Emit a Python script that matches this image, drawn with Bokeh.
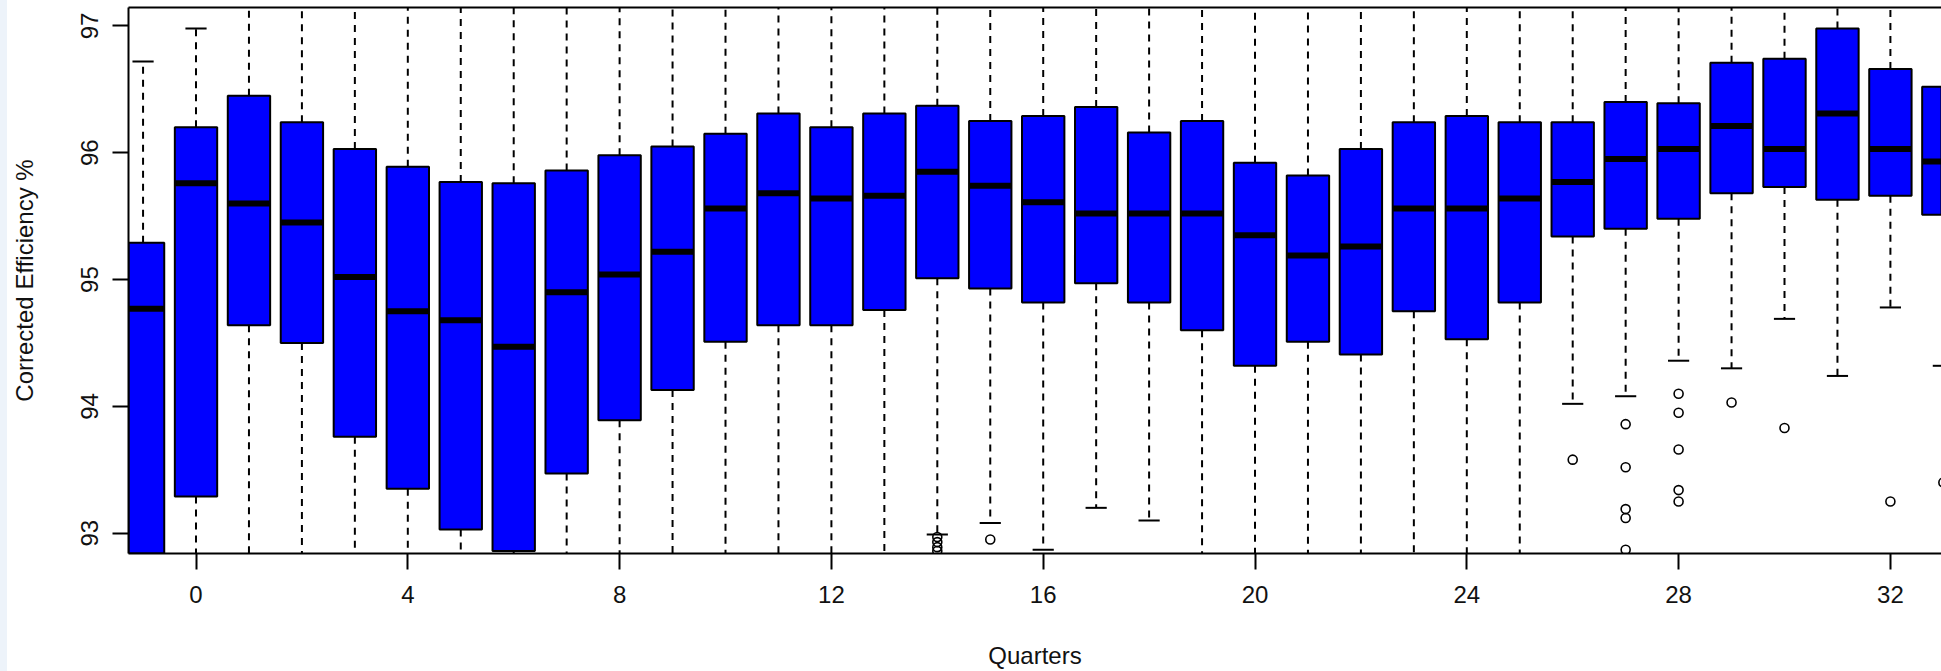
import math
from bokeh.plotting import figure
from bokeh.models import Range1d, FixedTicker, LinearAxis, ColumnDataSource
from bokeh.embed import file_html
from bokeh.resources import INLINE

# ---- data ----
quarters = [-1, 0, 1, 2, 3, 4, 5, 6, 7, 8, 9, 10, 11, 12, 13, 14, 15, 16, 17,
            18, 19, 20, 21, 22, 23, 24, 25, 26, 27, 28, 29, 30, 31, 32, 33]
lower_whisker = [91.8, 92.2, 92.3, 92.3, 92.1, 92.0, 91.9, 91.8, 92.0, 92.2, 92.4,
                 92.6, 92.6, 92.6, 92.7, 92.99, 93.08, 92.87, 93.20, 93.10, 92.6,
                 92.5, 92.6, 92.5, 92.7, 92.6, 92.8, 94.02, 94.08, 94.36, 94.30,
                 94.69, 94.24, 94.78, 94.32]
q1 = [92.4, 93.29, 94.64, 94.50, 93.76, 93.35, 93.03, 92.86, 93.47, 93.89, 94.13,
      94.51, 94.64, 94.64, 94.76, 95.01, 94.93, 94.82, 94.97, 94.82, 94.60,
      94.32, 94.51, 94.41, 94.75, 94.53, 94.82, 95.34, 95.40, 95.48, 95.68,
      95.73, 95.63, 95.66, 95.51]
median = [94.77, 95.76, 95.60, 95.45, 95.02, 94.75, 94.68, 94.47, 94.90, 95.04, 95.22,
          95.56, 95.68, 95.64, 95.66, 95.85, 95.74, 95.61, 95.52, 95.52, 95.52,
          95.35, 95.19, 95.26, 95.56, 95.56, 95.64, 95.77, 95.95, 96.03, 96.21,
          96.03, 96.31, 96.03, 95.93]
q3 = [95.29, 96.20, 96.45, 96.24, 96.03, 95.89, 95.77, 95.76, 95.86, 95.98, 96.05,
      96.15, 96.31, 96.20, 96.31, 96.37, 96.25, 96.29, 96.36, 96.16, 96.25,
      95.92, 95.82, 96.03, 96.24, 96.29, 96.24, 96.24, 96.40, 96.39, 96.71,
      96.74, 96.98, 96.66, 96.52]
upper_whisker = [96.72, 96.98, 97.6, 97.6, 97.5, 97.5, 97.4, 97.4, 97.5, 97.5, 97.6,
                 97.6, 97.7, 97.6, 97.7, 97.6, 97.6, 97.6, 97.5, 97.4, 97.5,
                 97.4, 97.3, 97.5, 97.5, 97.6, 97.5, 97.3, 97.4, 97.3, 97.5,
                 97.4, 97.9, 97.5, 97.4]
outlier_quarter = [14, 14, 14, 14, 15, 26, 27, 27, 27, 27, 27,
                   28, 28, 28, 28, 28, 29, 30, 32, 33]
outlier_value = [92.97, 92.93, 92.89, 92.86, 92.95, 93.58, 93.86, 93.52, 93.19, 93.12, 92.87,
                 94.10, 93.95, 93.66, 93.34, 93.25, 94.03, 93.83, 93.25, 93.40]
x_ticks = [0, 4, 8, 12, 16, 20, 24, 28, 32]
y_ticks = [93, 94, 95, 96, 97]
x_title = "Quarters"
y_title = "Corrected Efficiency %"

BOX_W = 0.8
CAP_W = 0.4

src = ColumnDataSource(dict(
    x=quarters, lw=lower_whisker, q1=q1, med=median, q3=q3, uw=upper_whisker,
    left=[q - BOX_W / 2 for q in quarters], right=[q + BOX_W / 2 for q in quarters],
    cl=[q - CAP_W / 2 for q in quarters], cr=[q + CAP_W / 2 for q in quarters],
))
out_src = ColumnDataSource(dict(x=outlier_quarter, y=outlier_value))

FONT = "Liberation Sans"
TXT = "#111111"

p = figure(width=1941, height=671, output_backend="svg", toolbar_location=None,
           x_range=Range1d(-1.275, 32.965), y_range=Range1d(92.84, 97.145),
           min_border_left=128, min_border_right=0, min_border_top=7,
           min_border_bottom=118,
           x_axis_label=x_title, y_axis_label=y_title)
p.outline_line_color = None
p.grid.visible = False
p.background_fill_color = "white"
p.border_fill_color = None
p.styles = {"background": "linear-gradient(to right, #edf3fa 0px, #edf3fa 7px, #ffffff 7px)"}

# whiskers
p.segment(x0="x", y0="q3", x1="x", y1="uw", source=src, line_color="black",
          line_width=2, line_dash="7 6")
p.segment(x0="x", y0="q1", x1="x", y1="lw", source=src, line_color="black",
          line_width=2, line_dash="7 6")
p.segment(x0="cl", y0="uw", x1="cr", y1="uw", source=src, line_color="black", line_width=2)
p.segment(x0="cl", y0="lw", x1="cr", y1="lw", source=src, line_color="black", line_width=2)
# boxes
p.vbar(x="x", width=BOX_W, bottom="q1", top="q3", source=src,
       fill_color="#0000ff", line_color="black", line_width=2)
# medians
p.segment(x0="left", y0="med", x1="right", y1="med", source=src,
          line_color="black", line_width=6, line_cap="butt")
# outliers
p.scatter(x="x", y="y", source=out_src, marker="circle", size=9,
          fill_color=None, line_color="black", line_width=1.6)

for ax in (p.xaxis[0], p.yaxis[0]):
    ax.axis_line_width = 2
    ax.axis_line_color = "black"
    ax.major_tick_line_width = 2
    ax.major_tick_line_color = "black"
    ax.major_tick_out = 16
    ax.major_tick_in = 0
    ax.minor_tick_out = 0
    ax.minor_tick_in = 0
    ax.major_label_text_font = FONT
    ax.major_label_text_font_size = "24px"
    ax.major_label_text_color = TXT
    ax.axis_label_text_font = FONT
    ax.axis_label_text_font_size = "24px"
    ax.axis_label_text_font_style = "normal"
    ax.axis_label_text_color = TXT

p.xaxis.ticker = FixedTicker(ticks=x_ticks)
p.yaxis.ticker = FixedTicker(ticks=y_ticks)
p.yaxis.major_label_orientation = "vertical"
p.xaxis.major_label_standoff = 16
p.yaxis.major_label_standoff = 14
p.xaxis.axis_label_standoff = 36
p.yaxis.axis_label_standoff = 41

top = LinearAxis(ticker=FixedTicker(ticks=[]), major_label_text_font_size="0px",
                 major_tick_out=0, major_tick_in=0, minor_tick_out=0, minor_tick_in=0,
                 axis_line_width=2, axis_line_color="black")
p.add_layout(top, "above")

open("out.html", "w").write(file_html(p, INLINE))
